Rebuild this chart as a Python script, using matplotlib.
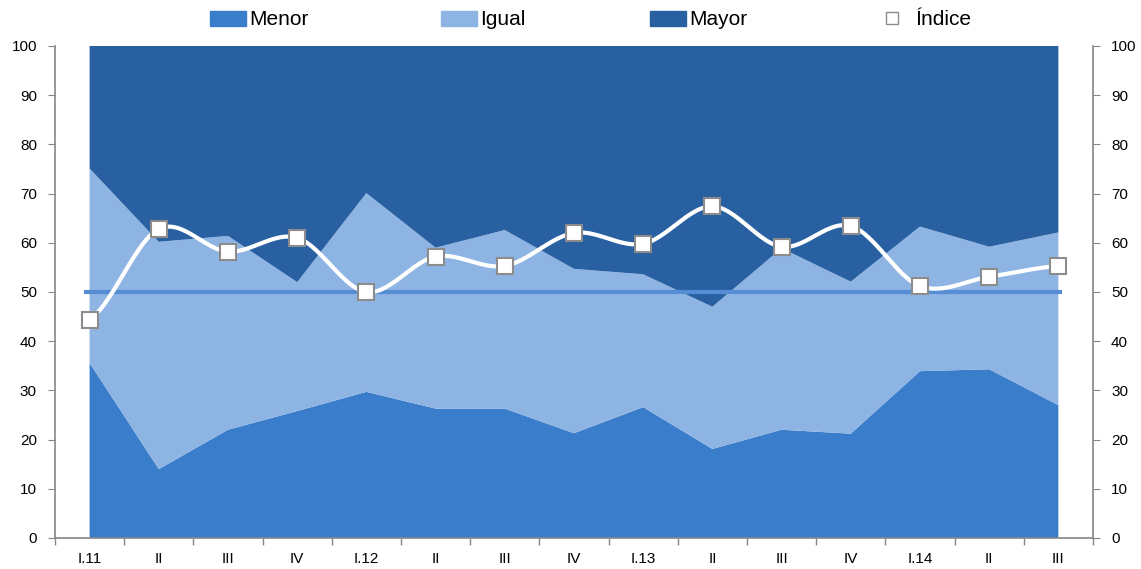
import numpy as np
import matplotlib
matplotlib.use("Agg")
import matplotlib.pyplot as plt
from matplotlib.lines import Line2D
from matplotlib.patches import Patch

# data
periodos = ["I.11", "II", "III", "IV", "I.12", "II", "III", "IV",
            "I.13", "II", "III", "IV", "I.14", "II", "III"]
menor = [35.6, 14.0, 22.0, 25.8, 29.7, 26.3, 26.3, 21.3,
         26.6, 18.1, 22.0, 21.2, 33.9, 34.3, 27.0]
igual = [39.5, 46.2, 39.4, 26.2, 40.4, 32.7, 36.3, 33.4,
         27.0, 28.9, 36.9, 30.9, 29.4, 24.9, 35.1]
mayor = [24.9, 39.8, 38.6, 48.0, 29.9, 41.0, 37.4, 45.3,
         46.4, 53.0, 41.1, 47.9, 36.7, 40.8, 37.9]
indice = [44.4, 62.8, 58.2, 61.0, 50.0, 57.2, 55.3, 62.0,
          59.8, 67.4, 59.2, 63.4, 51.2, 53.1, 55.3]
neutral = 50

c_menor = "#3a7dcb"
c_igual = "#8eb4e3"
c_mayor = "#2860a2"
c_axis = "#868686"

plt.rcParams['font.family'] = ['Liberation Sans', 'DejaVu Sans']


def smooth(xs, ys, n=30):
    # catmull-rom curve through the points, like excel's smoothed line
    xs = np.asarray(xs, float)
    ys = np.asarray(ys, float)
    px = np.concatenate([[2 * xs[0] - xs[1]], xs, [2 * xs[-1] - xs[-2]]])
    py = np.concatenate([[ys[0]], ys, [ys[-1]]])
    ox, oy = [], []
    t = np.linspace(0, 1, n)
    for i in range(1, len(px) - 2):
        for p, o in ((px, ox), (py, oy)):
            p0, p1, p2, p3 = p[i - 1], p[i], p[i + 1], p[i + 2]
            o.extend(0.5 * ((2 * p1) + (-p0 + p2) * t
                            + (2 * p0 - 5 * p1 + 4 * p2 - p3) * t ** 2
                            + (-p0 + 3 * p1 - 3 * p2 + p3) * t ** 3))
    return np.array(ox), np.array(oy)


x = np.arange(len(periodos))
fig = plt.figure(figsize=(11.41, 5.69), dpi=100)
ax = fig.add_axes([0.0482, 0.0545, 0.9097, 0.8647])

ax.stackplot(x, menor, igual, mayor, colors=[c_menor, c_igual, c_mayor],
             linewidth=0)
ax.plot([x[0] - 0.08, x[-1] + 0.05], [neutral, neutral], color="#558ed5",
        lw=3, solid_capstyle="butt", zorder=3)
sx, sy = smooth(x, indice)
ax.plot(sx, sy, color="white", lw=3, zorder=4)
ax.plot(x, indice, ls="none", marker="s", ms=11, mfc="white",
        mec="#8c8c8c", mew=1.5, zorder=5)

ax.set_xlim(-0.5, len(periodos) - 0.5)
ax.set_ylim(0, 100)
ax.set_yticks(range(0, 101, 10))
ax.set_xticks(x)
ax.set_xticklabels(periodos)
ax.set_xticks(np.arange(-0.5, len(periodos), 1), minor=True)
ax.tick_params(axis="x", which="major", length=0, pad=10, labelsize=11)
ax.tick_params(axis="x", which="minor", length=5, color=c_axis, width=1)
ax.tick_params(axis="y", length=5, color=c_axis, labelsize=11, pad=8)

for s in ["top", "right"]:
    ax.spines[s].set_visible(False)
for s in ["left", "bottom"]:
    ax.spines[s].set_color(c_axis)
    ax.spines[s].set_linewidth(1.2)

ax2 = ax.twinx()
ax2.set_ylim(0, 100)
ax2.set_yticks(range(0, 101, 10))
ax2.tick_params(axis="y", length=5, color=c_axis, labelsize=11, pad=8)
for s in ["top", "left", "bottom"]:
    ax2.spines[s].set_visible(False)
ax2.spines["right"].set_color(c_axis)
ax2.spines["right"].set_linewidth(1.2)

# one legend per entry so each sits where the reference has it
entries = [(Patch(color=c_menor), "Menor", 0.184, 1.75),
           (Patch(color=c_igual), "Igual", 0.3865, 1.75),
           (Patch(color=c_mayor), "Mayor", 0.5697, 1.75),
           (Line2D([], [], ls="none", marker="s", ms=8, mfc="white",
                   mec="#8c8c8c", mew=1), "Índice", 0.773, 1.0)]
for h, lab, xa, hl in entries:
    leg = fig.legend([h], [lab], loc="center left", bbox_to_anchor=(xa, 0.965),
                     frameon=False, fontsize=15, handlelength=hl,
                     handleheight=0.75, handletextpad=0.15 if hl > 1 else 0.6,
                     borderpad=0, borderaxespad=0)

fig.savefig("out.png", dpi=100)
